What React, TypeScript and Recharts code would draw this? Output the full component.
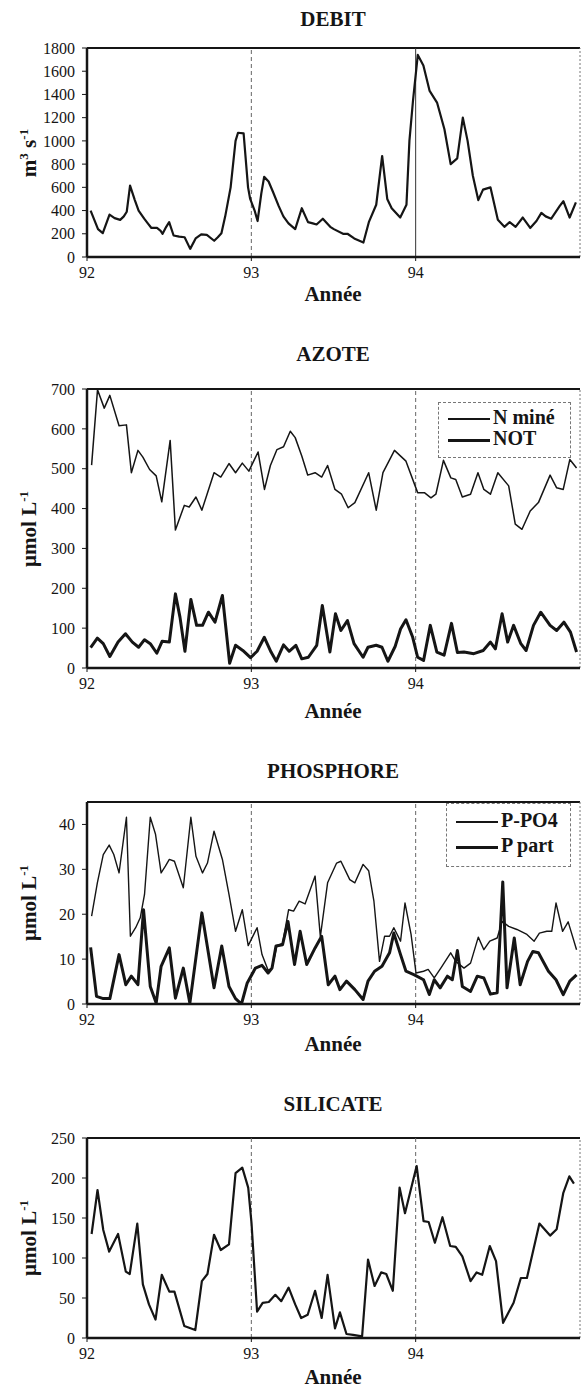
import React from 'react';
import { LineChart, Line, XAxis, YAxis, ReferenceLine } from 'recharts';

const FONT = '"Liberation Serif", "Times New Roman", "DejaVu Serif", serif';
const INK = '#151515';

// time axis in fractional years (92 = 1992)
const yearTicks = [92, 93, 94];

// DEBIT (m3 s-1)
const debitT = [92.022, 92.067, 92.096, 92.137, 92.168, 92.202, 92.224, 92.242, 92.262, 92.291, 92.314, 92.348, 92.37, 92.392, 92.426, 92.448, 92.46, 92.482, 92.5, 92.527, 92.561, 92.594, 92.628, 92.661, 92.695, 92.729, 92.774, 92.796, 92.818, 92.841, 92.874, 92.904, 92.919, 92.953, 92.98, 92.993, 93.02, 93.038, 93.061, 93.078, 93.105, 93.132, 93.166, 93.195, 93.226, 93.267, 93.307, 93.345, 93.374, 93.397, 93.435, 93.48, 93.502, 93.558, 93.585, 93.626, 93.682, 93.715, 93.76, 93.796, 93.827, 93.854, 93.906, 93.944, 93.962, 93.984, 94.013, 94.047, 94.085, 94.13, 94.175, 94.213, 94.253, 94.287, 94.316, 94.348, 94.381, 94.41, 94.455, 94.5, 94.54, 94.572, 94.608, 94.652, 94.697, 94.735, 94.765, 94.791, 94.825, 94.877, 94.899, 94.937, 94.975];
const debitQ = [400, 240, 205, 365, 335, 320, 350, 390, 615, 490, 400, 330, 290, 250, 250, 225, 200, 260, 300, 185, 175, 170, 70, 160, 195, 190, 140, 170, 205, 350, 600, 1000, 1070, 1065, 600, 500, 400, 310, 550, 690, 650, 560, 440, 350, 290, 240, 420, 300, 290, 280, 330, 260, 240, 200, 200, 160, 125, 300, 450, 870, 500, 420, 340, 450, 1000, 1350, 1740, 1650, 1430, 1330, 1100, 800, 850, 1200, 1000, 700, 490, 580, 600, 320, 260, 300, 260, 340, 250, 310, 380, 350, 330, 440, 480, 340, 470];

// AZOTE (umol L-1)
const nMineT = [92.028, 92.064, 92.105, 92.139, 92.195, 92.24, 92.27, 92.31, 92.34, 92.381, 92.421, 92.455, 92.506, 92.538, 92.592, 92.622, 92.663, 92.699, 92.773, 92.814, 92.864, 92.904, 92.945, 92.985, 93.041, 93.08, 93.116, 93.156, 93.196, 93.237, 93.267, 93.307, 93.343, 93.388, 93.428, 93.464, 93.509, 93.549, 93.589, 93.63, 93.714, 93.76, 93.801, 93.871, 93.941, 94.012, 94.053, 94.093, 94.123, 94.169, 94.214, 94.244, 94.284, 94.334, 94.379, 94.415, 94.455, 94.5, 94.566, 94.606, 94.647, 94.697, 94.747, 94.818, 94.858, 94.898, 94.938, 94.979];
const nMineV = [509, 698, 652, 684, 608, 610, 490, 546, 529, 498, 482, 417, 571, 346, 408, 404, 429, 396, 490, 479, 513, 490, 514, 494, 542, 448, 508, 548, 555, 594, 578, 532, 484, 490, 479, 508, 448, 436, 402, 415, 490, 396, 490, 546, 519, 440, 440, 427, 436, 521, 477, 473, 429, 436, 490, 448, 436, 490, 457, 361, 348, 394, 415, 484, 452, 448, 523, 502];

const notT = [92.022, 92.063, 92.099, 92.139, 92.189, 92.234, 92.276, 92.314, 92.35, 92.385, 92.425, 92.457, 92.501, 92.538, 92.566, 92.596, 92.632, 92.667, 92.703, 92.739, 92.779, 92.824, 92.868, 92.904, 92.948, 92.995, 93.035, 93.079, 93.12, 93.152, 93.196, 93.23, 93.271, 93.307, 93.347, 93.398, 93.432, 93.478, 93.512, 93.545, 93.585, 93.625, 93.68, 93.71, 93.76, 93.795, 93.831, 93.875, 93.908, 93.941, 93.982, 94.012, 94.048, 94.089, 94.129, 94.173, 94.218, 94.254, 94.294, 94.354, 94.411, 94.455, 94.485, 94.526, 94.56, 94.596, 94.64, 94.672, 94.717, 94.761, 94.818, 94.858, 94.902, 94.942, 94.979];
const notV = [51, 75, 61, 29, 65, 86, 65, 52, 71, 61, 37, 67, 65, 186, 127, 42, 172, 107, 107, 140, 115, 182, 12, 57, 44, 26, 42, 77, 40, 17, 58, 42, 57, 23, 27, 57, 157, 40, 136, 94, 119, 61, 27, 52, 57, 52, 17, 54, 98, 121, 77, 27, 19, 107, 40, 32, 112, 39, 40, 36, 44, 65, 48, 136, 65, 107, 61, 44, 107, 140, 107, 94, 115, 90, 40];

// PHOSPHORE (umol L-1)
const po4T = [92.028, 92.063, 92.099, 92.135, 92.163, 92.195, 92.24, 92.264, 92.296, 92.324, 92.35, 92.385, 92.417, 92.451, 92.477, 92.501, 92.532, 92.586, 92.632, 92.663, 92.703, 92.733, 92.773, 92.824, 92.864, 92.904, 92.945, 92.981, 93.035, 93.065, 93.102, 93.126, 93.156, 93.19, 93.227, 93.257, 93.291, 93.327, 93.388, 93.42, 93.464, 93.519, 93.545, 93.569, 93.599, 93.63, 93.68, 93.714, 93.746, 93.78, 93.811, 93.841, 93.867, 93.908, 93.935, 93.972, 94.002, 94.048, 94.076, 94.113, 94.153, 94.213, 94.244, 94.294, 94.334, 94.381, 94.415, 94.451, 94.496, 94.526, 94.566, 94.616, 94.677, 94.721, 94.753, 94.798, 94.828, 94.854, 94.894, 94.928, 94.979];
const po4V = [19.6, 27, 33.3, 35.4, 33.3, 29.2, 41.6, 15.1, 17, 19.2, 24.4, 41.6, 37.8, 29.2, 30.7, 32.2, 31.8, 25.9, 41.6, 32.9, 29.2, 31.4, 38.5, 32.2, 24.4, 16.2, 21, 13, 17, 11, 7.5, 8, 13, 13.5, 21, 20.7, 22.9, 22.3, 28.5, 15, 27, 31.4, 31.8, 30, 27.7, 27, 31.1, 29.7, 22.9, 9.5, 15.1, 15.1, 17, 14, 22.5, 15.5, 6.9, 7.3, 7.7, 5.8, 8, 11.4, 9.5, 8, 9.1, 14.9, 12.1, 14, 14.7, 18.4, 17.3, 16.6, 15.5, 14, 15.8, 16.2, 16.2, 22.5, 16.2, 18.3, 12.1];

const pPartT = [92.022, 92.058, 92.099, 92.139, 92.195, 92.236, 92.27, 92.31, 92.344, 92.385, 92.421, 92.451, 92.501, 92.538, 92.586, 92.626, 92.699, 92.773, 92.82, 92.864, 92.904, 92.94, 92.975, 93.025, 93.065, 93.102, 93.126, 93.15, 93.19, 93.223, 93.263, 93.297, 93.337, 93.388, 93.428, 93.468, 93.509, 93.539, 93.579, 93.63, 93.68, 93.71, 93.75, 93.795, 93.841, 93.867, 93.908, 93.941, 93.992, 94.048, 94.083, 94.113, 94.149, 94.193, 94.223, 94.254, 94.284, 94.334, 94.375, 94.415, 94.455, 94.496, 94.53, 94.556, 94.6, 94.636, 94.681, 94.713, 94.747, 94.808, 94.854, 94.898, 94.938, 94.979];
const pPartV = [12.6, 1.7, 1.2, 1.2, 11, 4.3, 6.2, 4.3, 21, 3.9, 0.2, 8.4, 12.5, 1.3, 8, 0.2, 20.3, 3.6, 12.9, 3.9, 1.2, 0, 4.7, 8, 8.6, 6.9, 8, 12.9, 13.2, 18.4, 8.8, 16.2, 8.8, 12.5, 15.1, 4.3, 6.2, 3.2, 5.1, 3.2, 1, 5.1, 7.3, 8.4, 11.4, 15.8, 11, 7.3, 6.5, 5.4, 2.1, 5.4, 3.6, 6.2, 5.4, 11.9, 3.9, 2.8, 6.2, 5.8, 2.2, 2.5, 27.2, 3.6, 14.7, 4.3, 9.5, 11.7, 11.4, 7.3, 5.4, 2.1, 5.1, 6.5];

// SILICATE (umol L-1)
const silT = [92.028, 92.064, 92.099, 92.135, 92.189, 92.236, 92.26, 92.306, 92.34, 92.377, 92.417, 92.455, 92.501, 92.532, 92.592, 92.659, 92.699, 92.733, 92.773, 92.814, 92.864, 92.904, 92.945, 92.981, 93.001, 93.035, 93.069, 93.106, 93.146, 93.182, 93.227, 93.267, 93.303, 93.343, 93.388, 93.428, 93.464, 93.509, 93.539, 93.579, 93.619, 93.674, 93.71, 93.75, 93.79, 93.821, 93.861, 93.902, 93.935, 94.006, 94.048, 94.079, 94.117, 94.163, 94.21, 94.244, 94.284, 94.334, 94.371, 94.405, 94.451, 94.489, 94.532, 94.596, 94.64, 94.677, 94.753, 94.818, 94.858, 94.898, 94.935, 94.963];
const silV = [130, 185, 135, 108, 130, 83, 80, 143, 67, 42, 23, 79, 58, 58, 15, 10, 71, 80, 129, 110, 117, 206, 213, 188, 144, 33, 44, 45, 54, 46, 63, 42, 25, 29, 59, 25, 79, 12, 32, 5, 4, 2, 98, 65, 82, 80, 59, 188, 156, 215, 146, 145, 119, 151, 115, 114, 102, 71, 82, 79, 115, 96, 19, 44, 75, 75, 143, 128, 136, 181, 202, 193];

const pts = (t: number[], v: number[]) => t.map((x, i) => ({ t: x, v: v[i] }));

type Serie = { name: string; t: number[]; v: number[]; width: number };
type Box = { left: number; top: number; width: number; height: number; rowGap: number };

type PanelProps = {
  title: string;
  plotTop: number;
  plotBottom: number;
  yMax: number;
  yTicks: number[];
  series: Serie[];
  yLabel: React.ReactNode;
  titleY: number;
  anneeY: number;
  solid94?: boolean;
  legend?: Box;
};

const bold: React.CSSProperties = {
  fontFamily: FONT,
  fontWeight: 'bold',
  fontSize: 21,
  lineHeight: '21px',
  color: INK,
  whiteSpace: 'nowrap',
};

const LegendBox = ({ series, box }: { series: Serie[]; box: Box }) => (
  <div
    style={{
      ...bold,
      fontSize: 20,
      position: 'absolute',
      left: box.left,
      top: box.top,
      width: box.width,
      height: box.height,
      boxSizing: 'border-box',
      border: '1px dashed #777',
      paddingTop: 3,
      paddingLeft: 9,
    }}
  >
    {series.map((s) => (
      <div key={s.name} style={{ display: 'flex', alignItems: 'center', height: box.rowGap, lineHeight: '20px' }}>
        <span style={{ display: 'inline-block', width: 42, height: s.width, background: INK, marginRight: 3, marginTop: 5 }} />
        <span>{s.name}</span>
      </div>
    ))}
  </div>
);

const Panel = (p: PanelProps) => {
  const chartTop = p.plotTop - 10;
  const height = p.plotBottom - p.plotTop + 40;
  return (
    <>
      <div style={{ ...bold, position: 'absolute', left: 333, top: p.titleY - 11, transform: 'translateX(-50%)' }}>{p.title}</div>
      <div style={{ ...bold, position: 'absolute', left: 333, top: p.anneeY - 11, transform: 'translateX(-50%)' }}>Année</div>
      <div
        style={{
          ...bold,
          lineHeight: '22px',
          position: 'absolute',
          left: 26,
          top: (p.plotTop + p.plotBottom) / 2,
          transform: 'translate(-50%, -50%) rotate(-90deg)',
        }}
      >
        {p.yLabel}
      </div>
      <div style={{ position: 'absolute', left: 0, top: chartTop }}>
        <LineChart width={581} height={height} margin={{ top: 10, right: 1, bottom: 0, left: 0 }} style={{ fontFamily: FONT }}>
          <XAxis
            type="number"
            dataKey="t"
            domain={[92, 95]}
            ticks={yearTicks}
            allowDataOverflow
            height={30}
            tickSize={4}
            tickMargin={6}
            axisLine={{ stroke: INK, strokeWidth: 2.5 }}
            tickLine={{ stroke: INK }}
            tick={{ fontSize: 16, fill: INK, fontFamily: FONT }}
          />
          <YAxis
            type="number"
            domain={[0, p.yMax]}
            ticks={p.yTicks}
            interval={0}
            allowDataOverflow
            width={87}
            tickSize={5}
            tickMargin={7}
            axisLine={{ stroke: INK, strokeWidth: 2.5 }}
            tickLine={{ stroke: INK }}
            tick={{ fontSize: 16, fill: INK, fontFamily: FONT }}
          />
          <ReferenceLine y={p.yMax} stroke={INK} strokeWidth={2} />
          <ReferenceLine x={95} stroke="#777" strokeWidth={1} strokeDasharray="2 2" />
          <ReferenceLine x={93} stroke="#666" strokeWidth={1} strokeDasharray="4 3" />
          <ReferenceLine x={94} stroke={p.solid94 ? '#333' : '#666'} strokeWidth={1} strokeDasharray={p.solid94 ? undefined : '4 3'} />
          {p.series.map((s) => (
            <Line
              key={s.name}
              name={s.name}
              data={pts(s.t, s.v)}
              dataKey="v"
              type="linear"
              stroke={INK}
              strokeWidth={s.width}
              strokeLinejoin="round"
              dot={false}
              isAnimationActive={false}
            />
          ))}
        </LineChart>
      </div>
      {p.legend && <LegendBox series={p.series} box={p.legend} />}
    </>
  );
};

const umol = (
  <span>
    µmol L<sup style={{ fontSize: 13 }}>-1</sup>
  </span>
);

export default function App() {
  return (
    <div style={{ position: 'absolute', left: 0, top: 0, width: 581, height: 1388, background: '#fff', overflow: 'hidden', fontFamily: FONT }}>
      <style>{`.recharts-text, .recharts-cartesian-axis-tick-value { font-family: "Liberation Serif", "Times New Roman", serif; }`}</style>
      <Panel
        title="DEBIT"
        titleY={20}
        anneeY={295}
        plotTop={48}
        plotBottom={257}
        yMax={1800}
        yTicks={[0, 200, 400, 600, 800, 1000, 1200, 1400, 1600, 1800]}
        series={[{ name: 'Débit', t: debitT, v: debitQ, width: 2.2 }]}
        yLabel={
          <span>
            m<sup style={{ fontSize: 13 }}>3</sup> s<sup style={{ fontSize: 13 }}>-1</sup>
          </span>
        }
        solid94
      />
      <Panel
        title="AZOTE"
        titleY={355}
        anneeY={712}
        plotTop={389}
        plotBottom={668}
        yMax={700}
        yTicks={[0, 100, 200, 300, 400, 500, 600, 700]}
        series={[
          { name: 'N miné', t: nMineT, v: nMineV, width: 1.5 },
          { name: 'NOT', t: notT, v: notV, width: 3 },
        ]}
        yLabel={umol}
        legend={{ left: 438, top: 402, width: 133, height: 56, rowGap: 21 }}
      />
      <Panel
        title="PHOSPHORE"
        titleY={772}
        anneeY={1045}
        plotTop={802}
        plotBottom={1004}
        yMax={45}
        yTicks={[0, 10, 20, 30, 40]}
        series={[
          { name: 'P-PO4', t: po4T, v: po4V, width: 1.4 },
          { name: 'P part', t: pPartT, v: pPartV, width: 3 },
        ]}
        yLabel={umol}
        legend={{ left: 446, top: 803, width: 125, height: 64, rowGap: 25 }}
      />
      <Panel
        title="SILICATE"
        titleY={1105}
        anneeY={1378}
        plotTop={1138}
        plotBottom={1338}
        yMax={250}
        yTicks={[0, 50, 100, 150, 200, 250]}
        series={[{ name: 'Silicate', t: silT, v: silV, width: 2.2 }]}
        yLabel={umol}
      />
    </div>
  );
}
